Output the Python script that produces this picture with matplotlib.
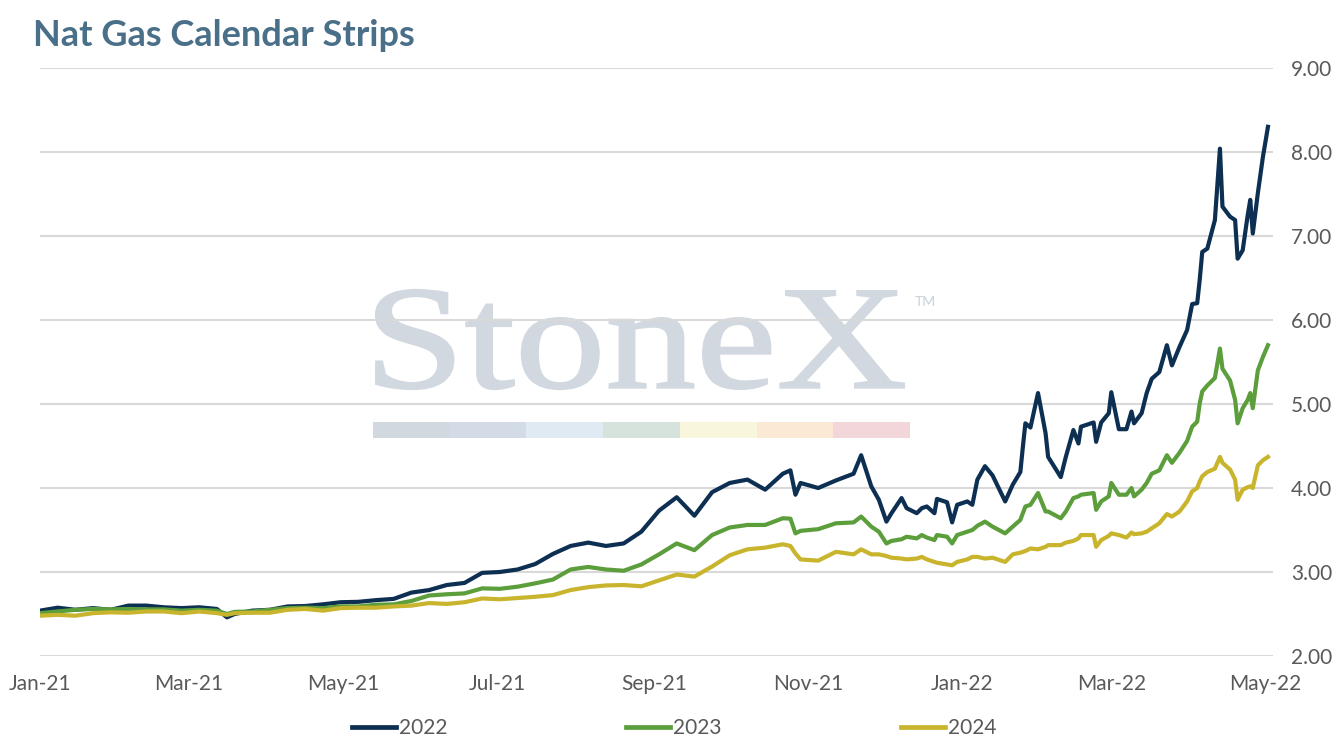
import pandas as pd
import matplotlib
matplotlib.use("Agg")
import matplotlib.pyplot as plt
import matplotlib.dates as mdates
from matplotlib.patches import PathPatch, Rectangle
from matplotlib.textpath import TextPath
from matplotlib.font_manager import FontProperties
from matplotlib.transforms import Affine2D

# Calendar strip settlement prices ($/MMBtu)
dates = [
    "2021-01-01", "2021-01-08", "2021-01-15", "2021-01-22", "2021-01-29", "2021-02-05",
    "2021-02-12", "2021-02-19", "2021-02-26", "2021-03-05", "2021-03-12", "2021-03-16",
    "2021-03-19", "2021-03-26", "2021-04-02", "2021-04-09", "2021-04-16", "2021-04-23",
    "2021-04-30", "2021-05-07", "2021-05-14", "2021-05-21", "2021-05-28", "2021-06-04",
    "2021-06-11", "2021-06-18", "2021-06-25", "2021-07-02", "2021-07-09", "2021-07-16",
    "2021-07-23", "2021-07-30", "2021-08-06", "2021-08-13", "2021-08-20", "2021-08-27",
    "2021-09-03", "2021-09-10", "2021-09-17", "2021-09-24", "2021-10-01", "2021-10-08",
    "2021-10-15", "2021-10-22", "2021-10-25", "2021-10-27", "2021-10-29", "2021-11-05",
    "2021-11-12", "2021-11-19", "2021-11-22", "2021-11-26", "2021-11-29", "2021-12-02",
    "2021-12-04", "2021-12-08", "2021-12-10", "2021-12-14", "2021-12-16", "2021-12-18",
    "2021-12-21", "2021-12-22", "2021-12-26", "2021-12-28", "2021-12-30", "2022-01-03",
    "2022-01-05", "2022-01-07", "2022-01-10", "2022-01-13", "2022-01-18", "2022-01-21",
    "2022-01-24", "2022-01-25", "2022-01-26", "2022-01-28", "2022-01-31", "2022-02-03",
    "2022-02-04", "2022-02-09", "2022-02-11", "2022-02-14", "2022-02-16", "2022-02-17",
    "2022-02-22", "2022-02-23", "2022-02-25", "2022-02-28", "2022-03-01", "2022-03-04",
    "2022-03-07", "2022-03-09", "2022-03-10", "2022-03-13", "2022-03-15", "2022-03-17",
    "2022-03-20", "2022-03-23", "2022-03-25", "2022-03-28", "2022-03-31", "2022-04-02",
    "2022-04-04", "2022-04-05", "2022-04-06", "2022-04-08", "2022-04-11", "2022-04-13",
    "2022-04-14", "2022-04-17", "2022-04-19", "2022-04-20", "2022-04-22", "2022-04-24",
    "2022-04-25", "2022-04-26", "2022-04-28", "2022-04-30", "2022-05-02",
]

strip_2022 = [
    2.54, 2.575, 2.55, 2.57, 2.55, 2.60, 2.60, 2.58, 2.57, 2.58, 2.56, 2.46,
    2.50, 2.54, 2.55, 2.59, 2.595, 2.615, 2.64, 2.645, 2.665, 2.68, 2.755, 2.785,
    2.845, 2.87, 2.99, 3.00, 3.03, 3.095, 3.215, 3.31, 3.35, 3.31, 3.34, 3.48,
    3.73, 3.89, 3.67, 3.95, 4.06, 4.10, 3.98, 4.17, 4.21, 3.92, 4.06, 4.00,
    4.09, 4.17, 4.39, 4.02, 3.86, 3.60, 3.70, 3.88, 3.76, 3.70, 3.76, 3.78,
    3.70, 3.87, 3.83, 3.59, 3.80, 3.84, 3.80, 4.10, 4.26, 4.15, 3.84, 4.04,
    4.19, 4.49, 4.77, 4.72, 5.13, 4.65, 4.37, 4.13, 4.37, 4.69, 4.53, 4.73,
    4.78, 4.55, 4.78, 4.89, 5.14, 4.70, 4.70, 4.91, 4.77, 4.89, 5.13, 5.30,
    5.38, 5.70, 5.46, 5.68, 5.88, 6.19, 6.20, 6.48, 6.81, 6.85, 7.19, 8.04,
    7.35, 7.23, 7.19, 6.73, 6.83, 7.25, 7.43, 7.03, 7.51, 7.94, 8.30,
]

strip_2023 = [
    2.51, 2.53, 2.55, 2.56, 2.555, 2.56, 2.555, 2.555, 2.54, 2.55, 2.54, 2.50,
    2.525, 2.53, 2.55, 2.57, 2.575, 2.57, 2.59, 2.59, 2.61, 2.615, 2.655, 2.72,
    2.735, 2.745, 2.805, 2.80, 2.825, 2.865, 2.91, 3.03, 3.06, 3.03, 3.015, 3.09,
    3.21, 3.34, 3.26, 3.44, 3.53, 3.56, 3.56, 3.64, 3.635, 3.46, 3.49, 3.51,
    3.58, 3.59, 3.66, 3.54, 3.48, 3.34, 3.37, 3.39, 3.42, 3.40, 3.44, 3.41,
    3.38, 3.44, 3.42, 3.34, 3.44, 3.48, 3.50, 3.55, 3.60, 3.54, 3.46, 3.54,
    3.62, 3.70, 3.78, 3.80, 3.94, 3.72, 3.72, 3.64, 3.72, 3.88, 3.90, 3.92,
    3.94, 3.74, 3.84, 3.90, 4.06, 3.92, 3.92, 4.00, 3.90, 3.98, 4.06, 4.17,
    4.21, 4.39, 4.30, 4.42, 4.56, 4.73, 4.79, 5.01, 5.15, 5.22, 5.31, 5.66,
    5.42, 5.28, 5.05, 4.77, 4.95, 5.05, 5.13, 4.95, 5.40, 5.56, 5.70,
]

strip_2024 = [
    2.48, 2.49, 2.48, 2.51, 2.52, 2.515, 2.53, 2.53, 2.51, 2.53, 2.51, 2.49,
    2.51, 2.515, 2.515, 2.55, 2.56, 2.54, 2.57, 2.575, 2.575, 2.59, 2.60, 2.63,
    2.62, 2.64, 2.685, 2.675, 2.69, 2.705, 2.725, 2.785, 2.82, 2.84, 2.845, 2.83,
    2.90, 2.97, 2.945, 3.065, 3.20, 3.27, 3.29, 3.33, 3.31, 3.22, 3.15, 3.135,
    3.24, 3.21, 3.27, 3.21, 3.21, 3.19, 3.17, 3.16, 3.15, 3.16, 3.18, 3.15,
    3.12, 3.11, 3.09, 3.08, 3.12, 3.15, 3.18, 3.18, 3.16, 3.17, 3.12, 3.21,
    3.23, 3.24, 3.25, 3.28, 3.27, 3.30, 3.32, 3.32, 3.35, 3.37, 3.40, 3.44,
    3.44, 3.30, 3.38, 3.43, 3.46, 3.44, 3.41, 3.47, 3.45, 3.46, 3.48, 3.52,
    3.58, 3.69, 3.66, 3.72, 3.84, 3.96, 4.00, 4.08, 4.14, 4.19, 4.23, 4.37,
    4.30, 4.22, 4.10, 3.86, 3.98, 4.01, 4.02, 4.00, 4.27, 4.33, 4.37,
]

series_labels = ["2022", "2023", "2024"]
y_ticks = [2, 3, 4, 5, 6, 7, 8, 9]

colors = ["#0c2f52", "#5b9e3b", "#c8b42d"]
stripe_colors = ["#d2d8df", "#d3dce6", "#dfeaf3", "#d5e3dc", "#f8f6dc", "#fbe9d4", "#f2d6d9"]
grey = "#595959"
font = "Lato"

W, H = 1340, 750
fig = plt.figure(figsize=(W / 100, H / 100), dpi=100)
ax = fig.add_axes([40 / W, 1 - 656 / H, (1273 - 40) / W, (656 - 68) / H])
ax.set_facecolor("none")

# pixel coordinates (origin bottom-left) -> figure
px = Affine2D().scale(1 / W, 1 / H) + fig.transFigure

# StoneX watermark behind the grid
wm_col = "#d1d8e0"
tp = TextPath((0, 0), "StoneX", size=100, prop=FontProperties(family="Liberation Serif"))
bb = tp.get_extents()
wm_tr = Affine2D().translate(-bb.x0, -bb.y0).scale(528 / bb.width, 99 / bb.height).translate(376, H - 389)
ax.add_artist(PathPatch(tp, transform=wm_tr + px, facecolor=wm_col, edgecolor=wm_col, lw=1.6,
                        zorder=0.1, clip_on=False))
fig.text(915 / W, 1 - 302 / H, "TM", fontsize=10, color="#c8d0d9", family=font, va="center")
seg = (910 - 373) / len(stripe_colors)
for i, c in enumerate(stripe_colors):
    ax.add_artist(Rectangle((373 + i * seg, H - 438), seg, 16, transform=px,
                            facecolor=c, edgecolor="none", zorder=0.1, clip_on=False))

x = pd.to_datetime(dates)
for vals, lab, c in zip([strip_2022, strip_2023, strip_2024], series_labels, colors):
    ax.plot(x, vals, color=c, lw=3.0, label=lab, zorder=3, solid_joinstyle="round")

ax.set_xlim(pd.Timestamp("2021-01-01"), pd.Timestamp("2022-05-04"))
ax.set_ylim(2, 9)
ax.xaxis.set_major_locator(mdates.MonthLocator(bymonth=[1, 3, 5, 7, 9, 11]))
ax.xaxis.set_major_formatter(mdates.DateFormatter("%b-%y"))
ax.yaxis.tick_right()
ax.set_yticks(y_ticks)
ax.yaxis.set_major_formatter(lambda v, p: f"{v:.2f}")
ax.tick_params(axis="both", length=0, labelsize=15, colors=grey)
ax.tick_params(axis="x", pad=13)
ax.tick_params(axis="y", pad=13)
for lbl in ax.get_xticklabels() + ax.get_yticklabels():
    lbl.set_family(font)
ax.grid(axis="y", color="#d9d9d9", lw=1.5, zorder=0.5)
ax.set_axisbelow(True)
for s in ax.spines.values():
    s.set_visible(False)

fig.text(33 / W, 1 - 36 / H, "Nat Gas Calendar Strips", fontsize=26, fontweight="bold",
         color="#4a6f88", family=font, va="center")

leg = fig.legend(loc="center", bbox_to_anchor=(674 / W, 1 - 728 / H), ncol=3, frameon=False,
                 handlelength=2.1, handletextpad=0.15, columnspacing=8.6,
                 prop=FontProperties(family=font, size=15))
for t in leg.get_texts():
    t.set_color(grey)
for h in leg.get_lines():
    h.set_linewidth(3.4)

fig.savefig("out.png", dpi=100)
